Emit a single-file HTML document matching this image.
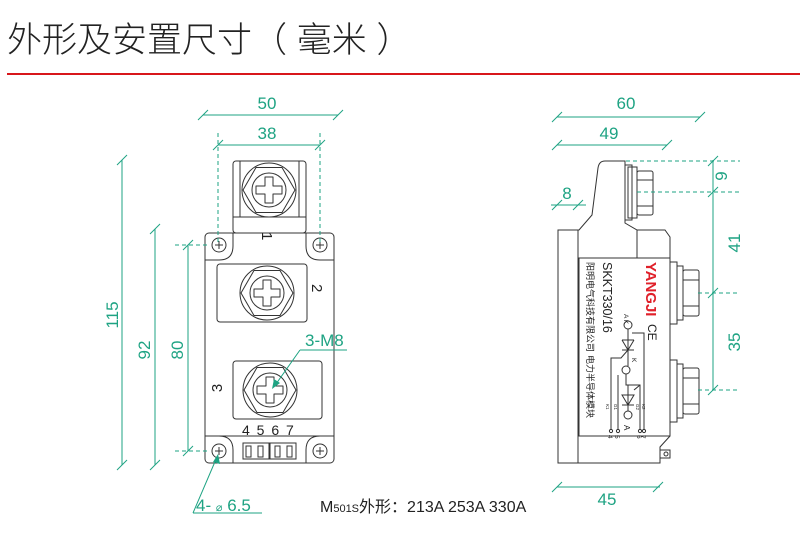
<!DOCTYPE html>
<html><head><meta charset="utf-8"><style>
html,body{margin:0;padding:0;background:#fff;}
svg{display:block;}
text{font-family:"Liberation Sans","Noto Sans CJK SC",sans-serif;}
</style></head><body>
<svg width="800" height="543" viewBox="0 0 800 543" xmlns="http://www.w3.org/2000/svg">
<defs>
<g id="nut" fill="none" stroke="#333" stroke-width="1">
  <circle r="27"/>
  <polygon points="-26,0 -13,-22.5 13,-22.5 26,0 13,22.5 -13,22.5"/>
  <circle r="17"/>
  <path d="M-4,-13 h8 v9 h9 v8 h-9 v9 h-8 v-9 h-9 v-8 h9 z" stroke-linejoin="round"/>
</g>
<g id="hole" fill="none" stroke="#333" stroke-width="1">
  <circle r="7"/><path d="M-4,0 h8 M0,-4 v8"/>
</g>
<g id="tk" stroke="#1ea383" stroke-width="1"><path d="M-5,5 L5,-5"/></g>
</defs>

<!-- title -->
<text x="7" y="52" font-size="35" fill="#222" font-family="'Noto Sans CJK SC',sans-serif" font-weight="300">外形及安置尺寸（ 毫米 ）</text>
<rect x="7" y="73" width="793" height="2" fill="#d8161b"/>

<!-- ===== FRONT VIEW ===== -->
<g fill="none" stroke="#333" stroke-width="1">
  <rect x="233" y="161" width="73" height="72" rx="3" fill="#fff"/>
  <path d="M240,161 V217 M299,161 V217 M233,217 H306"/>
  <rect x="205" y="233" width="129" height="230" rx="4"/>
  <path d="M233,233 V246 Q233,260 219,260 H205"/>
  <path d="M306,233 V246 Q306,260 320,260 H334"/>
  <path d="M205,436 H334"/>
  <path d="M205,436 H219 Q233,436 233,450 V463"/>
  <path d="M334,436 H320 Q306,436 306,450 V463"/>
  <rect x="217" y="264" width="90" height="58" rx="3"/>
  <rect x="233" y="361" width="89" height="58" rx="3"/>
  <rect x="243" y="443" width="26" height="16"/>
  <rect x="270" y="443" width="26" height="16"/>
  <rect x="246" y="446" width="5" height="11"/><rect x="258" y="446" width="5" height="11"/>
  <rect x="275" y="446" width="5" height="11"/><rect x="287" y="446" width="5" height="11"/>
</g>
<use href="#nut" x="269" y="190"/>
<use href="#nut" x="267" y="293"/>
<use href="#nut" x="270" y="390"/>
<use href="#hole" x="219" y="245"/>
<use href="#hole" x="320" y="245"/>
<use href="#hole" x="219" y="451"/>
<use href="#hole" x="320" y="451"/>
<text transform="translate(262,232) rotate(90)" font-size="15" fill="#222">1</text>
<text transform="translate(312,284) rotate(90)" font-size="15" fill="#222">2</text>
<text transform="translate(222,388) rotate(-90)" font-size="15" fill="#222" text-anchor="middle">3</text>
<text x="242" y="435" font-size="14" fill="#222" letter-spacing="1.5">4 5 6 7</text>

<!-- front dimensions -->
<g stroke="#1ea383" stroke-width="1" fill="none">
  <path d="M203,115 H338"/>
  <path d="M218,145 H320"/>
  <path d="M218,133 V245 M320,133 V245" stroke-dasharray="4,3"/>
  <path d="M122,160 V465"/>
  <path d="M155,229 V465"/>
  <path d="M188,245 V451"/>
  <path d="M175,245 H210 M175,451 H210" stroke-dasharray="4,3"/>
  <path d="M300,350 H347 M300,350 L276,384"/>
  <path d="M193,513 H262 M193,513 L217,457"/>
</g>
<polygon points="272,389 274,379 280,383" fill="#1ea383"/>
<polygon points="218,454 220,464 213,462" fill="#1ea383"/>
<use href="#tk" x="203" y="115"/><use href="#tk" x="338" y="115"/>
<use href="#tk" x="218" y="145"/><use href="#tk" x="320" y="145"/>
<use href="#tk" x="122" y="160"/><use href="#tk" x="122" y="465"/>
<use href="#tk" x="155" y="229"/><use href="#tk" x="155" y="465"/>
<use href="#tk" x="188" y="245"/><use href="#tk" x="188" y="451"/>
<g fill="#1ea383" font-size="17">
  <text x="267" y="109" text-anchor="middle">50</text>
  <text x="267" y="139" text-anchor="middle">38</text>
  <text transform="translate(118,315) rotate(-90)" text-anchor="middle">115</text>
  <text transform="translate(150,350) rotate(-90)" text-anchor="middle">92</text>
  <text transform="translate(183,350) rotate(-90)" text-anchor="middle">80</text>
  <text x="305" y="346">3-M8</text>
  <text x="196" y="511">4- <tspan font-size="11">⌀</tspan> 6.5</text>
</g>
<text x="320" y="512" font-size="16" fill="#222">M<tspan font-size="11">501S</tspan><tspan font-family="'Noto Sans CJK SC',sans-serif">外形：</tspan>213A 253A 330A</text>

<!-- ===== SIDE VIEW ===== -->
<g fill="none" stroke="#333" stroke-width="1">
  <path d="M558,463 V230 H579 L592,215 L598,168 Q599,161 605,161 H625 V223 L637,230 H665 L670,237 V436 L660,447 V463 Z"/>
  <path d="M578,230 V463"/>
  <path d="M637,230 V258"/>
  <rect x="579" y="258" width="91" height="178"/>
  <rect x="625" y="165" width="7" height="55"/>
  <rect x="628" y="167" width="9" height="51"/>
  <rect x="637" y="171" width="16" height="44" rx="2"/>
  <path d="M637,180 H653 M637,206 H653"/>
  <rect x="670" y="262" width="7" height="62"/>
  <rect x="677" y="266" width="6" height="54"/>
  <rect x="683" y="270" width="16" height="46" rx="2"/>
  <path d="M683,280 H699 M683,306 H699"/>
  <rect x="670" y="360" width="7" height="62"/>
  <rect x="677" y="364" width="6" height="54"/>
  <rect x="683" y="368" width="16" height="46" rx="2"/>
  <path d="M683,378 H699 M683,404 H699"/>
  <rect x="660" y="450" width="10" height="8"/>
  <circle cx="666" cy="454" r="2"/>
  <!-- circuit -->
  <circle cx="628" cy="325" r="4"/>
  <circle cx="626" cy="370" r="4"/>
  <circle cx="628" cy="415" r="4"/>
  <path d="M628,329 V366 M622,340 H634 M622,340 L628,350 L634,340 M622,350 H634"/>
  <path d="M632,333 H644 V430"/>
  <path d="M628,350 L621,358 H611 V430 M618,375 V430"/>
  <path d="M626,374 V385 H640 V430 M628,385 V411 M622,395 L628,405 L634,395 Z M622,405 H634 M634,390 L640,385"/>
  <circle cx="611" cy="431" r="1.6"/><circle cx="618" cy="431" r="1.6"/>
  <circle cx="640" cy="431" r="1.6"/><circle cx="644" cy="431" r="1.6"/>
</g>
<text transform="translate(646,262) rotate(90)" font-size="15" font-weight="bold" fill="#e0202a">YANGJI</text>
<text transform="translate(648,324) rotate(90)" font-size="12" fill="#222">CE</text>
<text transform="translate(603,262) rotate(90)" font-size="12.5" fill="#222">SKKT330/16</text>
<text transform="translate(587,262) rotate(90)" font-size="9" fill="#222" font-family="'Noto Sans CJK SC',sans-serif">阳明电气科技有限公司</text>
<text transform="translate(587,355) rotate(90)" font-size="9" fill="#222" font-family="'Noto Sans CJK SC',sans-serif">电力半导体模块</text>
<g font-size="6.5" fill="#222">
  <text transform="translate(624,314) rotate(90)">A K</text>
  <text transform="translate(632,358) rotate(90)">K</text>
  <text transform="translate(624,425) rotate(90)" font-size="8">A</text>
  <text transform="translate(606,404) rotate(90)" font-size="4.5">K1</text>
  <text transform="translate(614,404) rotate(90)" font-size="4.5">G1</text>
  <text transform="translate(636,404) rotate(90)" font-size="4.5">G2</text>
  <text transform="translate(642,404) rotate(90)" font-size="4.5">K2</text>
  <text transform="translate(608,435) rotate(90)">4</text>
  <text transform="translate(615,435) rotate(90)">5</text>
  <text transform="translate(637,435) rotate(90)">6</text>
  <text transform="translate(641,435) rotate(90)">7</text>
</g>

<!-- side dimensions -->
<g stroke="#1ea383" stroke-width="1" fill="none">
  <path d="M557,117 H700"/>
  <path d="M557,145 H667"/>
  <path d="M551,205 H586"/>
  <path d="M713,160 V390"/>
  <path d="M626,161 H740 M637,192 H740 M698,293 H740 M698,390 H740" stroke-dasharray="4,3"/>
  <path d="M557,487 H660"/>
</g>
<use href="#tk" x="557" y="117"/><use href="#tk" x="700" y="117"/>
<use href="#tk" x="557" y="145"/><use href="#tk" x="667" y="145"/>
<use href="#tk" x="557" y="205"/><use href="#tk" x="578" y="205"/>
<use href="#tk" x="713" y="161"/><use href="#tk" x="713" y="192"/>
<use href="#tk" x="713" y="293"/><use href="#tk" x="713" y="390"/>
<use href="#tk" x="557" y="487"/><use href="#tk" x="658" y="487"/>
<g fill="#1ea383" font-size="17">
  <text x="626" y="109" text-anchor="middle">60</text>
  <text x="609" y="139" text-anchor="middle">49</text>
  <text x="567" y="199" text-anchor="middle">8</text>
  <text transform="translate(727,176) rotate(-90)" text-anchor="middle">9</text>
  <text transform="translate(740,243) rotate(-90)" text-anchor="middle">41</text>
  <text transform="translate(740,342) rotate(-90)" text-anchor="middle">35</text>
  <text x="607" y="505" text-anchor="middle">45</text>
</g>
</svg>
</body></html>
